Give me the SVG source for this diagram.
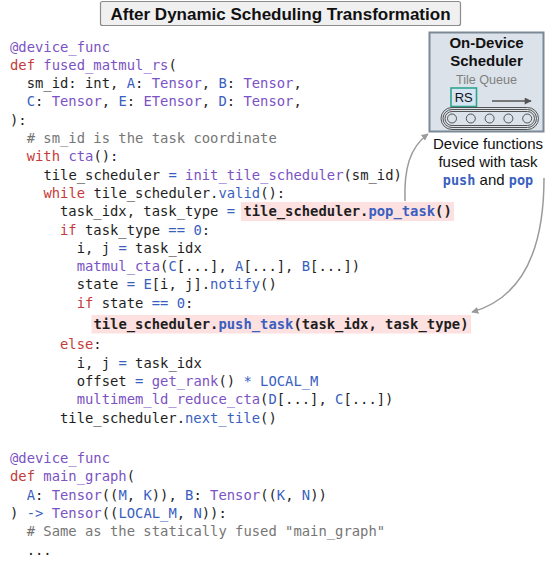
<svg xmlns="http://www.w3.org/2000/svg" width="546" height="563" viewBox="0 0 546 563">
  <style>
    .code { font-family: "DejaVu Sans Mono", "Liberation Mono", monospace; font-size: 13.85px; fill: #1e1e1e; white-space: pre; }
    .k { fill: #c53a3a; }
    .f { fill: #7b52c4; }
    .b { fill: #3a5fbf; }
    .c { fill: #767676; }
    .bold { font-weight: bold; }
    .hl { fill: #fde1e1; }
    .sans { font-family: "Liberation Sans", Arial, sans-serif; }
    .conn { fill: none; stroke: #9a9a9a; stroke-width: 1.5; }
  </style>
  <defs>
    <marker id="arrow" viewBox="0 0 10 10" refX="9" refY="5" markerWidth="7" markerHeight="7" orient="auto" markerUnits="userSpaceOnUse">
      <path d="M0,0 L10,5 L0,10 z" fill="#9a9a9a"/>
    </marker>
    <marker id="queueArrow" viewBox="0 0 10 10" refX="9" refY="5" markerWidth="9" markerHeight="7" orient="auto" markerUnits="userSpaceOnUse">
      <path d="M0,0 L10,5 L0,10 z" fill="#555"/>
    </marker>
  </defs>

  <!-- heading -->
  <g id="title">
    <rect x="100.5" y="1.5" width="360" height="24" rx="2" fill="#f0f0f0" stroke="#8c8c8c" stroke-width="1.2"/>
    <text class="sans" x="280.5" y="19.5" font-size="17" font-weight="bold" text-anchor="middle" fill="#111">After Dynamic Scheduling Transformation</text>
  </g>

  <!-- highlighted scheduler calls -->
  <g id="highlights">
    <rect class="hl" x="241" y="202" width="213" height="19"/>
    <rect class="hl" x="91.5" y="315" width="379.5" height="18.5"/>
  </g>

  <!-- source listing -->
  <g id="code" class="code" xml:space="preserve">
    <text x="10" y="51.5"><tspan class="f">@device_func</tspan></text>
    <text x="10" y="69.8"><tspan class="k">def</tspan> <tspan class="f">fused_matmul_rs</tspan>(</text>
    <text x="26.7" y="88.1">sm_id: int, <tspan class="b">A</tspan>: <tspan class="f">Tensor</tspan>, <tspan class="b">B</tspan>: <tspan class="f">Tensor</tspan>,</text>
    <text x="26.7" y="106.4"><tspan class="b">C</tspan>: <tspan class="f">Tensor</tspan>, <tspan class="b">E</tspan>: <tspan class="f">ETensor</tspan>, <tspan class="b">D</tspan>: <tspan class="f">Tensor</tspan>,</text>
    <text x="10" y="124.7">):</text>
    <text x="26.7" y="143"><tspan class="c"># sm_id is the task coordinate</tspan></text>
    <text x="26.7" y="161.3"><tspan class="k">with</tspan> <tspan class="f">cta</tspan>():</text>
    <text x="43.4" y="179.6">tile_scheduler <tspan class="b">=</tspan> <tspan class="f">init_tile_scheduler</tspan>(sm_id)</text>
    <text x="43.4" y="197.9"><tspan class="k">while</tspan> tile_scheduler.<tspan class="b">valid</tspan>():</text>
    <text x="60" y="216.2">task_idx, task_type <tspan class="b">=</tspan> <tspan class="bold">tile_scheduler.<tspan class="b">pop_task</tspan>()</tspan></text>
    <text x="60" y="234.5"><tspan class="k">if</tspan> task_type <tspan class="b">==</tspan> <tspan class="b">0</tspan>:</text>
    <text x="76.7" y="252.8">i, j <tspan class="b">=</tspan> task_idx</text>
    <text x="76.7" y="271.1"><tspan class="f">matmul_cta</tspan>(<tspan class="b">C</tspan>[...], <tspan class="b">A</tspan>[...], <tspan class="b">B</tspan>[...])</text>
    <text x="76.7" y="289.4">state <tspan class="b">=</tspan> <tspan class="b">E</tspan>[i, j].<tspan class="b">notify</tspan>()</text>
    <text x="76.7" y="307.7"><tspan class="k">if</tspan> state <tspan class="b">==</tspan> <tspan class="b">0</tspan>:</text>
    <text x="93.4" y="328.5" class="bold">tile_scheduler.<tspan class="b">push_task</tspan>(task_idx, task_type)</text>
    <text x="60" y="349"><tspan class="k">else</tspan>:</text>
    <text x="76.7" y="367.5">i, j <tspan class="b">=</tspan> task_idx</text>
    <text x="76.7" y="386">offset <tspan class="b">=</tspan> <tspan class="f">get_rank</tspan>() <tspan class="b">*</tspan> <tspan class="b">LOCAL_M</tspan></text>
    <text x="76.7" y="404.3"><tspan class="f">multimem_ld_reduce_cta</tspan>(<tspan class="b">D</tspan>[...], <tspan class="b">C</tspan>[...])</text>
    <text x="60" y="422.6">tile_scheduler.<tspan class="b">next_tile</tspan>()</text>
    <text x="10" y="463"><tspan class="f">@device_func</tspan></text>
    <text x="10" y="481.3"><tspan class="k">def</tspan> <tspan class="f">main_graph</tspan>(</text>
    <text x="26.7" y="499.6"><tspan class="b">A</tspan>: <tspan class="f">Tensor</tspan>((<tspan class="b">M</tspan>, <tspan class="b">K</tspan>)), <tspan class="b">B</tspan>: <tspan class="f">Tensor</tspan>((<tspan class="b">K</tspan>, <tspan class="b">N</tspan>))</text>
    <text x="10" y="517.9">) <tspan class="b">-&gt;</tspan> <tspan class="f">Tensor</tspan>((<tspan class="b">LOCAL_M</tspan>, <tspan class="b">N</tspan>)):</text>
    <text x="26.7" y="536.2"><tspan class="c"># Same as the statically fused "main_graph"</tspan></text>
    <text x="26.7" y="554.5">...</text>
  </g>

  <!-- on-device scheduler with its tile queue -->
  <g id="scheduler">
    <rect x="429.5" y="32.5" width="114" height="99" fill="#dce2e9" stroke="#7b8895" stroke-width="2"/>
    <text class="sans" x="486.5" y="48" font-size="15" font-weight="bold" text-anchor="middle" fill="#111">On-Device</text>
    <text class="sans" x="486.5" y="65.5" font-size="15" font-weight="bold" text-anchor="middle" fill="#111">Scheduler</text>
    <text class="sans" x="486.5" y="83.5" font-size="12.6" text-anchor="middle" fill="#808080">Tile Queue</text>
    <rect x="451" y="88" width="25.5" height="18.5" fill="#d6e5f3" stroke="#2fa58c" stroke-width="1.6"/>
    <text class="sans" x="463.7" y="102" font-size="13" text-anchor="middle" fill="#111">RS</text>
    <line x1="492" y1="101" x2="531" y2="101" stroke="#555" stroke-width="1.3" marker-end="url(#queueArrow)"/>
    <g fill="none" stroke="#444" stroke-width="0.9">
      <rect x="441" y="107.5" width="97.5" height="22" rx="11"/>
      <rect x="443" y="109.5" width="93.5" height="18" rx="9"/>
      <rect x="445" y="111.5" width="89.5" height="14" rx="7"/>
      <circle cx="452" cy="118.5" r="4.5"/>
      <circle cx="470.8" cy="118.5" r="4.5"/>
      <circle cx="489.6" cy="118.5" r="4.5"/>
      <circle cx="508.4" cy="118.5" r="4.5"/>
      <circle cx="527.2" cy="118.5" r="4.5"/>
    </g>
  </g>

  <!-- caption under the scheduler -->
  <g id="note">
    <text class="sans" x="488" y="148.5" font-size="15" text-anchor="middle" fill="#111">Device functions</text>
    <text class="sans" x="488" y="166.5" font-size="15" text-anchor="middle" fill="#111">fused with task</text>
    <text x="488" y="185" font-size="15" text-anchor="middle" fill="#111"><tspan font-family="DejaVu Sans Mono, monospace" font-size="13.5" font-weight="bold" fill="#3a5fbf">push</tspan><tspan font-family="Liberation Sans, Arial, sans-serif"> and </tspan><tspan font-family="DejaVu Sans Mono, monospace" font-size="13.5" font-weight="bold" fill="#3a5fbf">pop</tspan></text>
  </g>

  <!-- connectors -->
  <g id="connectors">
    <path class="conn" d="M405,201 C404,170 409,148 428,134" marker-end="url(#arrow)"/>
    <path class="conn" d="M544,178 C544,250 522,298 472,312" marker-end="url(#arrow)"/>
  </g>
</svg>
